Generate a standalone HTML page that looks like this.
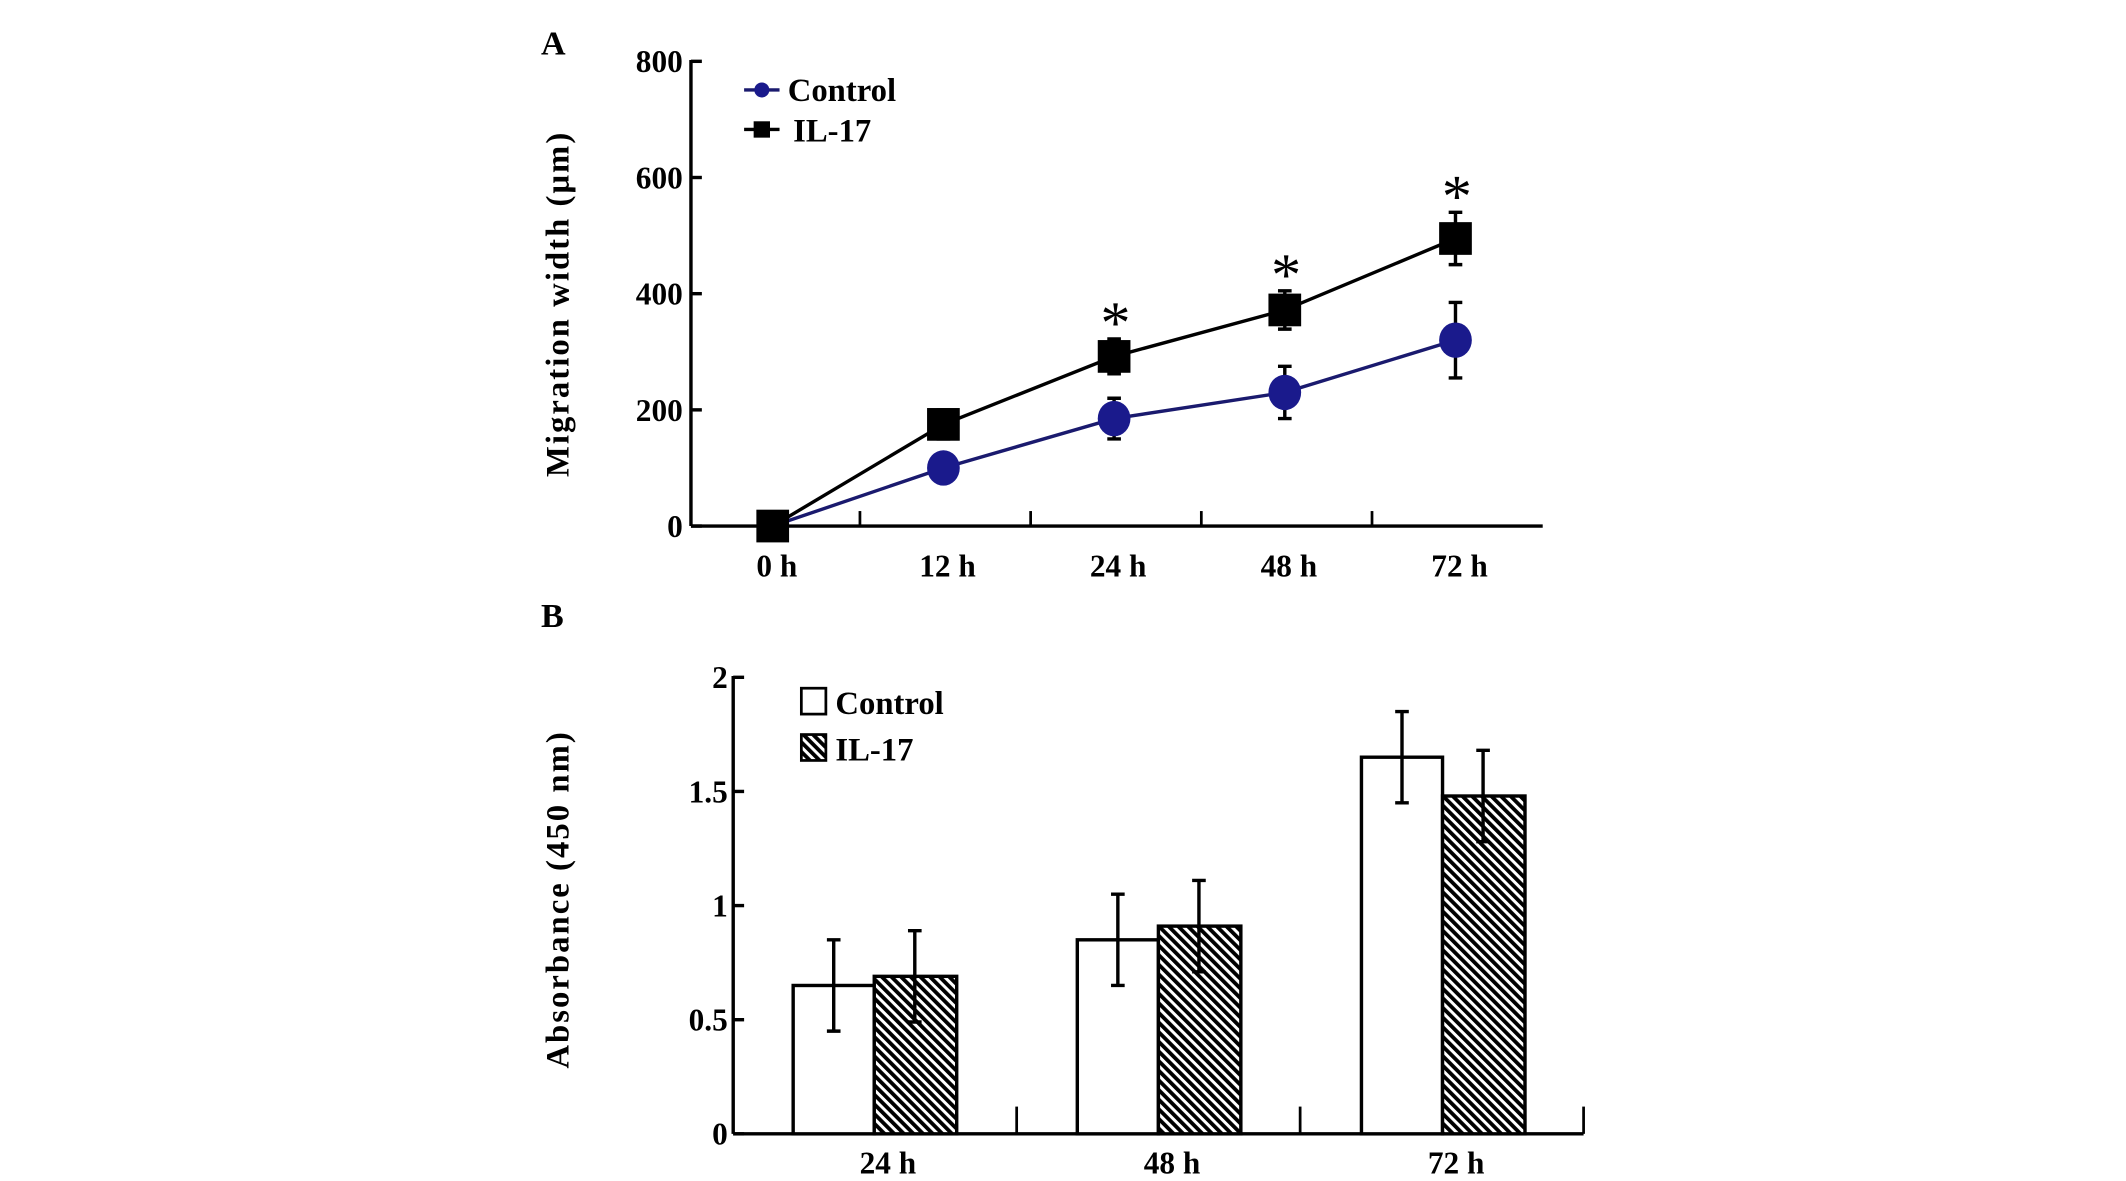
<!DOCTYPE html>
<html><head><meta charset="utf-8"><style>
html,body{margin:0;padding:0;background:#fff;}
svg{display:block;}
text{font-family:"Liberation Serif",serif;font-weight:bold;fill:#000;}
text.star{font-weight:normal;}
</style></head><body>
<svg id="fig" width="2126" height="1181" viewBox="0 0 1560 866.6" xmlns="http://www.w3.org/2000/svg">
<defs>
<pattern id="hatch" patternUnits="userSpaceOnUse" width="5" height="5" patternTransform="rotate(-45)">
<rect width="5" height="5" fill="#fff"/><rect width="2.8" height="5" fill="#000"/>
</pattern>
</defs>
<g transform="translate(-3,-2)">
<g id="gA"></g>
<g id="gB"></g>
</g>
</svg>
<script>
const timeLabels=["0 h","12 h","24 h","48 h","72 h"];
const controlA=[0,100,185,230,320];
const controlAErr=[0,0,35,45,65];
const il17A=[0,175,292,372,495];
const il17AErr=[0,25,30,33,45];
const sigA=[false,false,true,true,true];
const yTicksA=[0,200,400,600,800];

const groupsB=["24 h","48 h","72 h"];
const controlB=[0.65,0.85,1.65];
const controlBErr=[0.2,0.2,0.2];
const il17B=[0.69,0.91,1.48];
const il17BErr=[0.2,0.2,0.2];
const yTicksB=[0,0.5,1,1.5,2];
const yTickLabelsB=["0","0.5","1","1.5","2"];

const NS="http://www.w3.org/2000/svg";
function mk(parent,tag,attrs,txt){const e=document.createElementNS(NS,tag);for(const k in attrs)e.setAttribute(k,attrs[k]);if(txt!==undefined)e.textContent=txt;parent.appendChild(e);return e;}

// Panel A
const A=document.getElementById('gA');
const ax0=510,ay0=388,ay1=47,axEnd=1135;
const yA=v=>ay0-(v/800)*(ay0-ay1);
const xA=i=>570+i*125.25;
let t=mk(A,'text',{x:400,y:42,'font-size':25});t.textContent='A';

let l=mk(A,'line',{x1:ax0,y1:ay1-1,x2:ax0,y2:ay0,stroke:'#000','stroke-width':2.5});

l=mk(A,'line',{x1:ax0,y1:ay0,x2:axEnd,y2:ay0,stroke:'#000','stroke-width':2.5});

yTicksA.forEach(v=>{
 const tk=mk(A,'line',{x1:ax0,y1:yA(v),x2:ax0+8,y2:yA(v),stroke:'#000','stroke-width':2.5});
 
 const tl=mk(A,'text',{x:ax0-6,y:yA(v)+8,'font-size':23,'text-anchor':'end'},String(v));
 
});
for(let i=1;i<=4;i++){
 const x=634+(i-1)*125.25;
 const tk=mk(A,'line',{x1:x,y1:ay0-11,x2:x,y2:ay0,stroke:'#000','stroke-width':2});
 
}
timeLabels.forEach((s,i)=>{
 const tl=mk(A,'text',{x:xA(i)+3,y:425,'font-size':23,'text-anchor':'middle'},s);
 
});
t=mk(A,'text',{x:0,y:0,'font-size':24,'letter-spacing':'1.5','text-anchor':'middle',transform:'translate(420,225) rotate(-90)'},'Migration width (μm)');

const ptsC=controlA.map((v,i)=>xA(i)+','+yA(v)).join(' ');
const ptsI=il17A.map((v,i)=>xA(i)+','+yA(v)).join(' ');
l=mk(A,'polyline',{points:ptsC,fill:'none',stroke:'#1a1a6e','stroke-width':2.5});

l=mk(A,'polyline',{points:ptsI,fill:'none',stroke:'#000','stroke-width':2.5});

function errA(i,v,e,name){
 if(!e)return;
 const x=xA(i),p=mk(A,'path',{d:`M${x},${yA(v-e)}V${yA(v+e)}M${x-5},${yA(v-e)}H${x+5}M${x-5},${yA(v+e)}H${x+5}`,stroke:'#000','stroke-width':2.5,fill:'none'});
 
}
controlA.forEach((v,i)=>errA(i,v,controlAErr[i],'control-error-bar'));
il17A.forEach((v,i)=>errA(i,v,il17AErr[i],'il17-error-bar'));
controlA.forEach((v,i)=>{
 if(i===0)return;
 const c=mk(A,'ellipse',{cx:xA(i),cy:yA(v),rx:12,ry:13,fill:'#1a1a8c'});
 
});
il17A.forEach((v,i)=>{
 const r=mk(A,'rect',{x:xA(i)-12,y:yA(v)-12,width:24,height:24,fill:'#000'});
 
 if(sigA[i]){
  const s=mk(A,'text',{class:'star',x:xA(i)+1,y:yA(v+il17AErr[i])+3,'font-size':44,'text-anchor':'middle'},'*');
  
 }
});
let g=mk(A,'g',{});
mk(g,'line',{x1:549,y1:68,x2:575,y2:68,stroke:'#1a1a6e','stroke-width':2.5});
mk(g,'circle',{cx:562,cy:68,r:5.5,fill:'#1a1a8c'});
mk(g,'text',{x:581,y:76,'font-size':24},'Control');
mk(g,'line',{x1:549,y1:97,x2:575,y2:97,stroke:'#000','stroke-width':2.5});
mk(g,'rect',{x:556,y:91,width:12,height:12,fill:'#000'});
mk(g,'text',{x:585,y:106,'font-size':24},'IL-17');

// Panel B
const B=document.getElementById('gB');
const bx0=541,by0=834,by1=499,bxEnd=1165;
const yB=v=>by0-(v/2)*(by0-by1);
t=mk(B,'text',{x:400,y:462,'font-size':25},'B');

l=mk(B,'line',{x1:bx0,y1:by1-1,x2:bx0,y2:by0,stroke:'#000','stroke-width':2.5});

l=mk(B,'line',{x1:bx0,y1:by0,x2:bxEnd,y2:by0,stroke:'#000','stroke-width':2.5});

yTicksB.forEach((v,i)=>{
 const tk=mk(B,'line',{x1:bx0,y1:yB(v),x2:bx0+8,y2:yB(v),stroke:'#000','stroke-width':2.5});
 
 const tl=mk(B,'text',{x:bx0-4,y:yB(v)+8,'font-size':23,'text-anchor':'end'},yTickLabelsB[i]);
 
});
const groupW=208;
for(let i=1;i<=3;i++){
 const x=bx0+i*groupW;
 const tk=mk(B,'line',{x1:x,y1:by0-20,x2:x,y2:by0,stroke:'#000','stroke-width':2});
 
}
const barW=59.5;
const cx0=i=>585+i*208.5;
groupsB.forEach((s,i)=>{
 const tl=mk(B,'text',{x:cx0(i)+barW+10,y:863,'font-size':23,'text-anchor':'middle'},s);
 
 const rc=mk(B,'rect',{x:cx0(i),y:yB(controlB[i]),width:barW,height:by0-yB(controlB[i]),fill:'#fff',stroke:'#000','stroke-width':2.5});
 
 const ri=mk(B,'rect',{x:cx0(i)+barW,y:yB(il17B[i]),width:barW+1,height:by0-yB(il17B[i]),fill:'url(#hatch)',stroke:'#000','stroke-width':2.5});
 
 [[cx0(i)+barW/2,controlB[i],controlBErr[i],'control-error-bar-b'],[cx0(i)+barW*1.5,il17B[i],il17BErr[i],'il17-error-bar-b']].forEach(a=>{
  const x=a[0],v=a[1],e=a[2];
  const p=mk(B,'path',{d:`M${x},${yB(v-e)}V${yB(v+e)}M${x-5},${yB(v-e)}H${x+5}M${x-5},${yB(v+e)}H${x+5}`,stroke:'#000','stroke-width':2.5,fill:'none'});
  
 });
});
t=mk(B,'text',{x:0,y:0,'font-size':24,'letter-spacing':'1.5','text-anchor':'middle',transform:'translate(420,662) rotate(-90)'},'Absorbance (450 nm)');

g=mk(B,'g',{});
mk(g,'rect',{x:591,y:507,width:18,height:19,fill:'#fff',stroke:'#000','stroke-width':2});
mk(g,'text',{x:616,y:526,'font-size':24},'Control');
mk(g,'rect',{x:591,y:541,width:18,height:19,fill:'url(#hatch)',stroke:'#000','stroke-width':2});
mk(g,'text',{x:616,y:560,'font-size':24},'IL-17');
</script>
</body></html>
